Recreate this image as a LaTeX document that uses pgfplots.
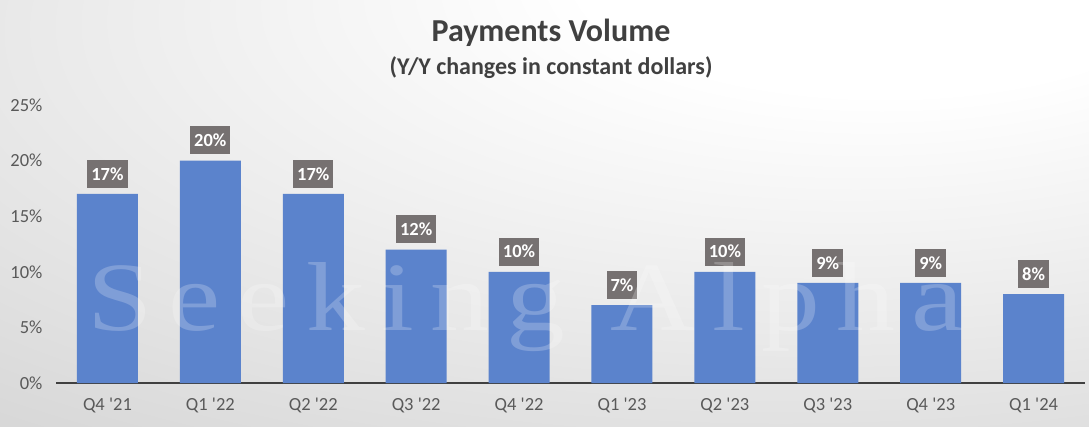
\documentclass[border=0pt]{standalone}
\usepackage{pgfplots}
\pgfplotsset{compat=1.18}
\usepackage{fontspec}
\setmainfont{Carlito}
\newfontfamily\wmfont[LetterSpace=14]{Liberation Serif}
\definecolor{barblue}{RGB}{91,131,204}
\definecolor{lblgray}{RGB}{118,113,113}
\definecolor{tickgray}{RGB}{89,89,89}
\definecolor{titlegray}{RGB}{64,64,64}
\pgfdeclareradialshading{bgshade}{\pgfpoint{18bp}{32bp}}{%
  color(0bp)=(white); color(14bp)=(white); color(45bp)=(black!12);
  color(70bp)=(black!22); color(110bp)=(black!28)}
\begin{document}
\begin{tikzpicture}
\useasboundingbox (0pt,0pt) rectangle (1089pt,426pt);
\path[shading=bgshade] (0pt,0pt) rectangle (1089pt,426pt);
\node[anchor=base, font=\fontsize{32}{36}\selectfont\bfseries, text=titlegray] at (551pt,384pt) {Payments Volume};
\node[anchor=base, font=\fontsize{24}{28}\selectfont\bfseries, text=titlegray] at (551pt,351pt) {(Y/Y changes in constant dollars)};
\begin{axis}[
  at={(56pt,43pt)}, anchor=south west,
  scale only axis, width=1029pt, height=278pt,
  xmin=-0.5, xmax=9.5, ymin=0, ymax=25,
  axis lines*=left,
  y axis line style={draw=none},
  x axis line style={draw=titlegray, line width=2pt},
  major tick length=0pt,
  xtick=data,
  xticklabels={Q4 \textquotesingle21, Q1 \textquotesingle22, Q2 \textquotesingle22, Q3 \textquotesingle22, Q4 \textquotesingle22, Q1 \textquotesingle23, Q2 \textquotesingle23, Q3 \textquotesingle23, Q4 \textquotesingle23, Q1 \textquotesingle24},
  ytick={0,5,10,15,20,25},
  yticklabels={0\%,5\%,10\%,15\%,20\%,25\%},
  tick label style={font=\fontsize{18.5}{21}\selectfont, text=tickgray},
  yticklabel style={xshift=-10pt},
  xticklabel style={yshift=-11pt},
  ybar, bar width=61pt,
  clip=false,
  nodes near coords={\pgfmathprintnumber[assume math mode=true]{\pgfplotspointmeta}\%},
  nodes near coords style={font=\fontsize{18.5}{21}\selectfont\bfseries, text=white, fill=lblgray,
     inner xsep=4pt, inner ysep=0pt, minimum height=28pt, anchor=south, yshift=6pt},
]
\addplot[fill=barblue, draw=none] coordinates {
 (0,17) (1,20) (2,17) (3,12) (4,10) (5,7) (6,10) (7,9) (8,9) (9,8)};
\end{axis}
\node[anchor=base west, xscale=1.2, text=white, opacity=0.22, font=\fontsize{98}{100}\selectfont\wmfont, inner sep=0pt] at (87pt,96pt) {Seeking Alpha};
\end{tikzpicture}
\end{document}
